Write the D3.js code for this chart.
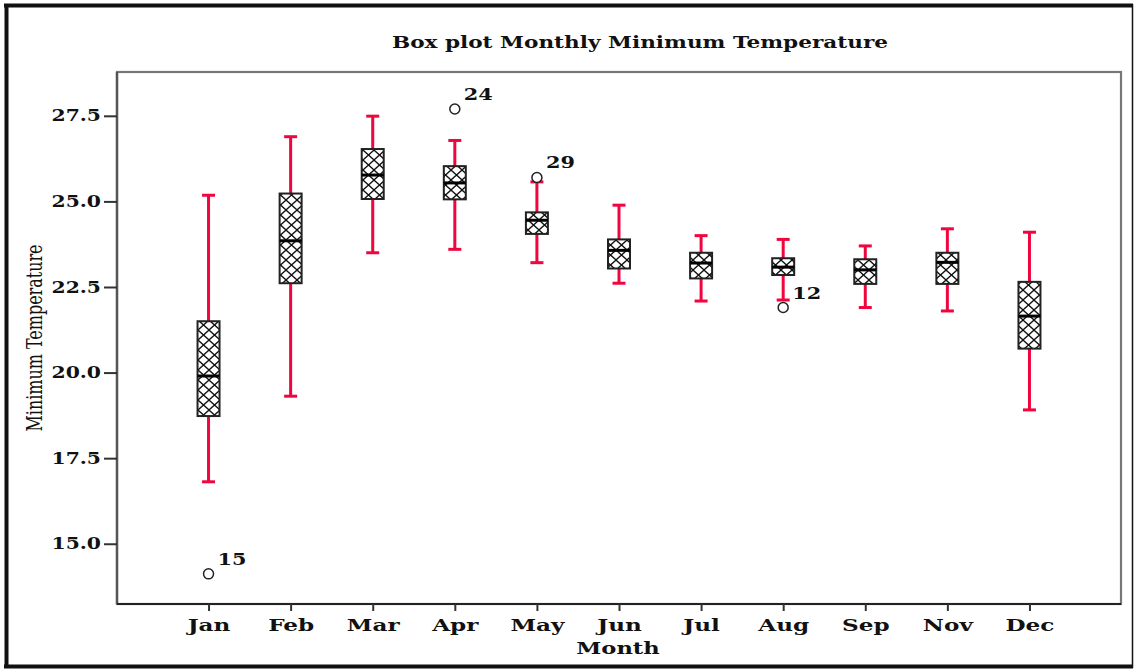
<!DOCTYPE html>
<html>
<head>
<meta charset="utf-8">
<script src="https://cdn.jsdelivr.net/npm/d3@7"></script>
<style>
  html, body { margin: 0; padding: 0; background: #fff; }
  svg { display: block; }
  text { font-family: "DejaVu Serif", "Liberation Serif", serif; fill: #111; }
</style>
</head>
<body>
<svg id="chart" width="1134" height="669"></svg>
<script>
// ---- data ----
const months    = ["Jan","Feb","Mar","Apr","May","Jun","Jul","Aug","Sep","Nov","Dec"];
const whiskLow  = [16.81, 19.31, 23.50, 23.60, 23.21, 22.61, 22.09, 22.12, 21.90, 21.80, 18.91];
const q1        = [18.73, 22.61, 25.07, 25.06, 24.05, 23.04, 22.75, 22.85, 22.59, 22.59, 20.70];
const medians   = [19.90, 23.85, 25.77, 25.54, 24.45, 23.57, 23.20, 23.08, 23.00, 23.22, 21.65];
const q3        = [21.50, 25.23, 26.53, 26.03, 24.68, 23.89, 23.50, 23.34, 23.31, 23.50, 22.65];
const whiskHigh = [25.18, 26.89, 27.49, 26.78, 25.57, 24.89, 24.00, 23.89, 23.70, 24.20, 24.10];
const outlierMonths = ["Jan","Apr","May","Aug"];
const outlierValues = [14.12, 27.70, 25.70, 21.90];
const outlierLabels = ["15","24","29","12"];
const yTicks = [15.0, 17.5, 20.0, 22.5, 25.0, 27.5];

const svg = d3.select("#chart");
const plot = {left: 117, right: 1121, top: 72, bottom: 604};

// horizontal stretch helper (reference text is wide)
function widen(sel, k) {
  sel.each(function() {
    const w = this.getComputedTextLength();
    d3.select(this).attr("textLength", w * k).attr("lengthAdjust", "spacingAndGlyphs");
  });
}

// outer frame
svg.append("line").attr("x1",6.5).attr("x2",6.5).attr("y1",4).attr("y2",668).attr("stroke","#111").attr("stroke-width",4);
svg.append("line").attr("x1",4).attr("x2",1133).attr("y1",5.5).attr("y2",5.5).attr("stroke","#111").attr("stroke-width",4);
svg.append("line").attr("x1",4).attr("x2",1133).attr("y1",666.5).attr("y2",666.5).attr("stroke","#111").attr("stroke-width",4);
svg.append("line").attr("x1",1132.5).attr("x2",1132.5).attr("y1",4).attr("y2",668).attr("stroke","#111").attr("stroke-width",1.5);

// hatch pattern
const defs = svg.append("defs");
const pat = defs.append("pattern").attr("id","hatch").attr("patternUnits","userSpaceOnUse")
  .attr("width",11).attr("height",10);
pat.append("rect").attr("width",11).attr("height",10).attr("fill","#fff");
pat.append("path").attr("d","M0,0 L11,10 M11,0 L0,10").attr("stroke","#111").attr("stroke-width",1.3).attr("fill","none");

const x = d3.scalePoint().domain(months).range([plot.left, plot.right]).padding(1.115);
const y = d3.scaleLinear().domain([13.24, 28.78]).range([plot.bottom, plot.top]);

// plot frame
svg.append("rect").attr("x",plot.left).attr("y",plot.top)
  .attr("width",plot.right-plot.left).attr("height",plot.bottom-plot.top)
  .attr("fill","none").attr("stroke","#777").attr("stroke-width",2.2);

// y axis
const yAxis = svg.append("g").attr("transform",`translate(${plot.left},0)`)
  .call(d3.axisLeft(y).tickValues(yTicks).tickFormat(d3.format(".1f")).tickSize(13).tickPadding(3));
yAxis.select(".domain").attr("stroke","#555").attr("stroke-width",2.4).attr("d",`M0,${plot.top}V${plot.bottom}`);
yAxis.selectAll(".tick line").attr("stroke","#333").attr("stroke-width",2);
yAxis.selectAll(".tick text").attr("font-size",16).attr("font-weight","bold")
  .attr("font-family","DejaVu Serif, serif").attr("fill","#111");
widen(yAxis.selectAll(".tick text"), 1.27);

// x axis
const xAxis = svg.append("g").attr("transform",`translate(0,${plot.bottom})`)
  .call(d3.axisBottom(x).tickSize(7).tickPadding(8));
xAxis.select(".domain").attr("stroke","#222").attr("stroke-width",2).attr("d",`M${plot.left},0H${plot.right}`);
xAxis.selectAll(".tick line").attr("stroke","#333").attr("stroke-width",2);
xAxis.selectAll(".tick text").attr("font-size",17).attr("font-weight","bold")
  .attr("font-family","DejaVu Serif, serif").attr("fill","#111");
widen(xAxis.selectAll(".tick text"), 1.36);

// boxes
const boxW = 22, capW = 13;
const red = "#f0063f";
const g = svg.append("g");
months.forEach((m,i) => {
  const cx = x(m);
  g.append("line").attr("x1",cx).attr("x2",cx).attr("y1",y(whiskHigh[i])).attr("y2",y(q3[i]))
    .attr("stroke",red).attr("stroke-width",3);
  g.append("line").attr("x1",cx).attr("x2",cx).attr("y1",y(q1[i])).attr("y2",y(whiskLow[i]))
    .attr("stroke",red).attr("stroke-width",3);
  g.append("line").attr("x1",cx-capW/2).attr("x2",cx+capW/2).attr("y1",y(whiskHigh[i])).attr("y2",y(whiskHigh[i]))
    .attr("stroke",red).attr("stroke-width",3);
  g.append("line").attr("x1",cx-capW/2).attr("x2",cx+capW/2).attr("y1",y(whiskLow[i])).attr("y2",y(whiskLow[i]))
    .attr("stroke",red).attr("stroke-width",3);
  g.append("rect").attr("x",cx-boxW/2).attr("y",y(q3[i])).attr("width",boxW).attr("height",y(q1[i])-y(q3[i]))
    .attr("fill","url(#hatch)").attr("stroke","#222").attr("stroke-width",2);
  g.append("line").attr("x1",cx-boxW/2).attr("x2",cx+boxW/2).attr("y1",y(medians[i])).attr("y2",y(medians[i]))
    .attr("stroke","#000").attr("stroke-width",3);
});

// outliers
outlierMonths.forEach((m,i) => {
  const cx = x(m), cy = y(outlierValues[i]);
  g.append("circle").attr("cx",cx).attr("cy",cy).attr("r",5)
    .attr("fill","#fff").attr("stroke","#222").attr("stroke-width",1.5);
  const t = g.append("text").attr("x",cx+9).attr("y",cy-9).attr("font-size",16).attr("font-weight","bold")
    .text(outlierLabels[i]);
  widen(t, 1.3);
});

// titles
const title = svg.append("text").attr("x",640).attr("y",48).attr("text-anchor","middle")
  .attr("font-size",17).attr("font-weight","bold").text("Box plot Monthly Minimum Temperature");
widen(title, 1.27);
const xl = svg.append("text").attr("x",618).attr("y",654).attr("text-anchor","middle")
  .attr("font-size",17).attr("font-weight","bold").text("Month");
widen(xl, 1.33);
svg.append("text").attr("transform","translate(42,338) rotate(-90)").attr("text-anchor","middle")
  .attr("font-family","Liberation Serif, serif")
  .attr("font-size",22).attr("textLength",187).attr("lengthAdjust","spacingAndGlyphs")
  .text("Minimum Temperature");
</script>
</body>
</html>
